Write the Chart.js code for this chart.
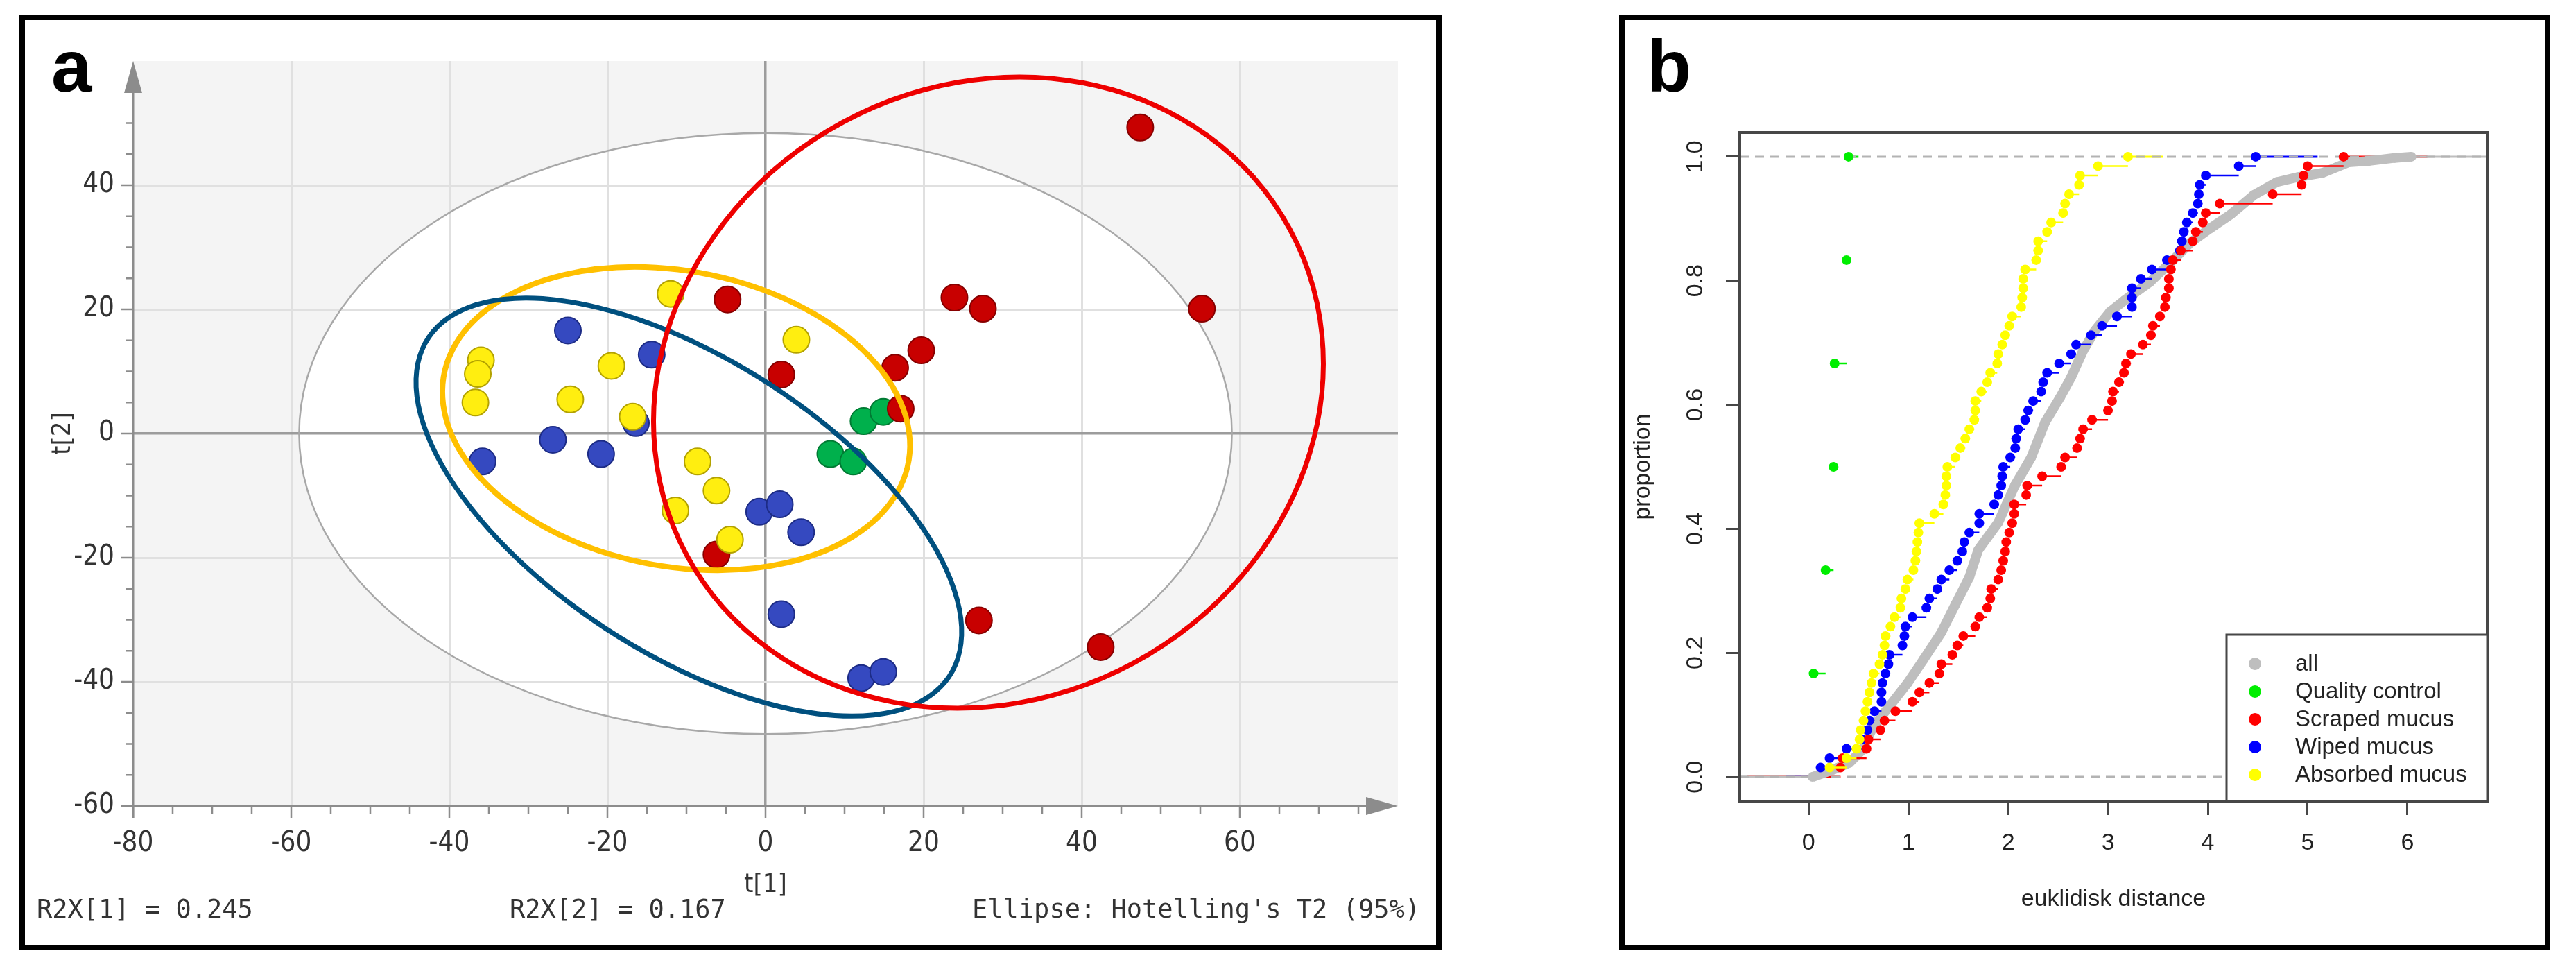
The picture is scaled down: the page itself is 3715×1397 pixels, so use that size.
<!DOCTYPE html>
<html><head><meta charset="utf-8">
<script src="https://cdn.jsdelivr.net/npm/chart.js@4.4.1/dist/chart.umd.min.js"></script>
<style>
html,body{margin:0;padding:0;background:#fff;}
body{width:3715px;height:1397px;position:relative;overflow:hidden;}
canvas{position:absolute;top:0;}
.frame{position:absolute;border:8px solid #000;box-sizing:border-box;}
#frameA{left:28px;top:21px;width:2051px;height:1349px;}
#frameB{left:2335px;top:21px;width:1343px;height:1349px;}
.panel{position:absolute;font-family:'Liberation Sans',Arial,sans-serif;font-weight:bold;font-size:105px;line-height:105px;color:#000;}
.mono{position:absolute;font-family:'DejaVu Sans Mono','Liberation Mono',monospace;font-size:37px;line-height:37px;color:#333;white-space:pre;}
</style></head>
<body>
<canvas id="chartA" width="2080" height="1397" style="left:0;width:2080px;height:1397px"></canvas>
<canvas id="chartB" width="1375" height="1397" style="left:2340px;width:1375px;height:1397px"></canvas>
<div class="frame" id="frameA"></div>
<div class="frame" id="frameB"></div>
<div class="panel" style="left:74px;top:43px">a</div>
<div class="panel" style="left:2375px;top:43px">b</div>
<div class="mono" style="left:53px;top:1292px">R2X[1] = 0.245</div>
<div class="mono" style="left:735px;top:1292px">R2X[2] = 0.167</div>
<div class="mono" style="left:1402px;top:1292px">Ellipse: Hotelling's T2 (95%)</div>
<script>
// ---------- Panel a : score plot (t[1] vs t[2]) ----------
const absorbedT1 = [-12.0, 3.9, -36.0, -36.4, -36.7, -19.5, -24.7, -16.8, -8.6, -6.2, -11.4, -4.5];
const absorbedT2 = [22.5, 15.1, 11.8, 9.6, 5.0, 10.9, 5.5, 2.7, -4.5, -9.2, -12.4, -17.1];
const wipedT1 = [-25.0, -14.4, -16.4, -26.9, -20.8, -35.8, -0.8, 1.8, 4.5, 2.0, 12.1, 14.9];
const wipedT2 = [16.6, 12.7, 1.7, -1.0, -3.3, -4.5, -12.6, -11.4, -15.9, -29.1, -39.4, -38.4];
const scrapedT1 = [47.4, 55.2, 23.9, 27.5, 19.7, 16.4, 17.1, -4.8, 2.0, -6.2, 27.0, 42.4];
const scrapedT2 = [49.3, 20.1, 21.9, 20.1, 13.4, 10.6, 4.0, 21.6, 9.5, -19.5, -30.1, -34.4];
const qcT1 = [8.2, 11.1, 12.4, 14.9];
const qcT2 = [-3.3, -4.5, 2.0, 3.5];

// ellipses: Hotelling T2, absorbed, wiped, scraped (data units)
const ellipseCenterT1 = [0, -11.3, -9.7, 28.2];
const ellipseCenterT2 = [0, 2.4, -11.85, 6.6];
const ellipseSemiA = [59, 30.4, 43.1, 51.3];
const ellipseSemiB = [48.4, 23.4, 21.6, 41.8];
const ellipseAngleDeg = [0, -21.2, -43.8, 76.6];

const t1Ticks = [-80, -60, -40, -20, 0, 20, 40, 60, 80];
const t1Labels = [-80, -60, -40, -20, 0, 20, 40, 60];
const t2Ticks = [-60, -40, -20, 0, 20, 40, 60];
const t2Labels = [-60, -40, -20, 0, 20, 40];

// ---------- Panel b : ECDF of euclidean distances ----------
const qcDist = [0.05, 0.17, 0.25, 0.26, 0.38, 0.40];
const scrapedDist = [0.32,0.34,0.58,0.60,0.72,0.76,0.87,1.04,1.11,1.21,1.31,1.33,1.44,1.49,1.55,1.67,1.71,1.79,1.82,1.83,1.90,1.93,1.95,1.97,1.98,2.01,2.04,2.06,2.06,2.18,2.19,2.34,2.53,2.57,2.69,2.72,2.75,2.84,3.00,3.04,3.05,3.11,3.16,3.18,3.23,3.35,3.43,3.45,3.52,3.57,3.58,3.61,3.61,3.63,3.65,3.73,3.85,3.88,3.95,3.98,4.12,4.65,4.94,4.96,5.00,5.36];
const wipedDist = [0.12,0.21,0.38,0.54,0.59,0.61,0.66,0.73,0.73,0.74,0.77,0.80,0.81,0.94,0.96,0.97,1.04,1.18,1.21,1.29,1.33,1.41,1.49,1.54,1.56,1.61,1.71,1.71,1.86,1.90,1.93,1.94,1.95,2.02,2.07,2.08,2.10,2.17,2.20,2.25,2.33,2.35,2.39,2.51,2.63,2.68,2.83,2.94,3.09,3.24,3.24,3.24,3.33,3.44,3.59,3.72,3.74,3.76,3.79,3.85,3.90,3.91,3.92,3.98,4.31,4.48];
const absorbedDist = [0.21,0.38,0.48,0.51,0.52,0.55,0.57,0.59,0.61,0.63,0.65,0.71,0.74,0.76,0.77,0.82,0.86,0.92,0.93,0.97,0.99,1.05,1.07,1.08,1.09,1.10,1.11,1.26,1.35,1.37,1.38,1.38,1.39,1.47,1.52,1.57,1.61,1.66,1.67,1.67,1.73,1.79,1.82,1.89,1.90,1.94,1.97,2.01,2.04,2.13,2.14,2.15,2.15,2.17,2.28,2.30,2.30,2.39,2.43,2.55,2.57,2.61,2.71,2.72,2.90,3.20];
const allDist = [0.04,0.25,0.41,0.54,0.64,0.78,0.99,1.15,1.33,1.47,1.61,1.70,1.90,2.07,2.23,2.37,2.52,2.63,2.75,2.87,3.02,3.17,3.42,3.65,3.83,4.02,4.23,4.46,4.69,4.90,5.15,5.41,5.61,5.87,6.04];
const allProp = [0.0,0.012,0.023,0.044,0.079,0.108,0.151,0.189,0.233,0.278,0.322,0.366,0.410,0.471,0.515,0.572,0.612,0.644,0.687,0.720,0.750,0.769,0.798,0.833,0.862,0.884,0.907,0.938,0.959,0.967,0.974,0.991,0.993,0.998,1.0];
// ends of the horizontal 0 / 1 lines of each ecdf
const extLeft = {all: -0.69, qc: 0.02, scraped: -0.62, wiped: -0.23, absorbed: -0.03};
const extRight = {all: 6.80, qc: 0.50, scraped: 6.20, wiped: 5.10, absorbed: 3.55};
const xTicksB = [0, 1, 2, 3, 4, 5, 6];
const yTicksB = [0, 0.2, 0.4, 0.6, 0.8, 1.0];
const legendLabels = ['all', 'Quality control', 'Scraped mucus', 'Wiped mucus', 'Absorbed mucus'];

// ---------- styles ----------
const narrowFont = "'Liberation Sans Narrow','DejaVu Sans Condensed','Open Sans',sans-serif";
const sansFont = "'Liberation Sans',Arial,sans-serif";
const ellipseColors = ['#a8a8a8', '#ffc000', '#00507f', '#ee0000'];
const ellipseWidths = [2.5, 8, 7, 7];
const colB = {all: '#bebebe', qc: '#00ee00', scraped: '#ff0000', wiped: '#0000ff', absorbed: '#ffff00'};
const legendColors = [colB.all, colB.qc, colB.scraped, colB.wiped, colB.absorbed];

const pts = (xs, ys) => xs.map((x, i) => ({x, y: ys[i]}));

function ellipsePath(ctx, xs, ys, i) {
  const cx = xs.getPixelForValue(ellipseCenterT1[i]);
  const cy = ys.getPixelForValue(ellipseCenterT2[i]);
  const sx = xs.getPixelForValue(1) - xs.getPixelForValue(0);
  const sy = ys.getPixelForValue(0) - ys.getPixelForValue(1);
  ctx.save();
  ctx.translate(cx, cy);
  ctx.scale(sx, -sy);
  ctx.rotate(ellipseAngleDeg[i] * Math.PI / 180);
  ctx.beginPath();
  ctx.ellipse(0, 0, ellipseSemiA[i], ellipseSemiB[i], 0, 0, Math.PI * 2);
  ctx.restore();
}

const plotAPlugin = {
  id: 'plotA',
  beforeDraw(chart) {
    const {ctx, chartArea: a, scales: {x, y}} = chart;
    ctx.save();
    ctx.fillStyle = '#f4f4f4';
    ctx.fillRect(a.left, a.top, a.right - a.left, a.bottom - a.top);
    ellipsePath(ctx, x, y, 0);
    ctx.fillStyle = '#ffffff';
    ctx.fill();
    ctx.restore();
  },
  beforeDatasetsDraw(chart) {
    const {ctx, scales: {x, y}} = chart;
    ctx.save();
    ellipsePath(ctx, x, y, 0);
    ctx.strokeStyle = ellipseColors[0];
    ctx.lineWidth = ellipseWidths[0];
    ctx.stroke();
    ctx.restore();
  },
  afterDatasetsDraw(chart) {
    const {ctx, scales: {x, y}} = chart;
    ctx.save();
    [1, 2, 3].forEach(i => {
      ellipsePath(ctx, x, y, i);
      ctx.strokeStyle = ellipseColors[i];
      ctx.lineWidth = ellipseWidths[i];
      ctx.stroke();
    });
    ctx.restore();
  },
  afterDraw(chart) {
    const {ctx, scales: {x, y}} = chart;
    const x0 = x.getPixelForValue(x.min), y0 = y.getPixelForValue(y.min);
    const xEnd = x.getPixelForValue(x.max), yEnd = y.getPixelForValue(y.max);
    ctx.save();
    ctx.strokeStyle = '#8c8c8c';
    ctx.fillStyle = '#8c8c8c';
    ctx.lineWidth = 3;
    ctx.beginPath();
    ctx.moveTo(x0, y0 + 18); ctx.lineTo(x0, yEnd + 44);
    ctx.moveTo(x0 - 18, y0); ctx.lineTo(xEnd - 44, y0);
    ctx.stroke();
    ctx.beginPath();
    ctx.moveTo(x0, yEnd); ctx.lineTo(x0 - 13, yEnd + 46); ctx.lineTo(x0 + 13, yEnd + 46); ctx.closePath();
    ctx.fill();
    ctx.beginPath();
    ctx.moveTo(xEnd, y0); ctx.lineTo(xEnd - 46, y0 - 13); ctx.lineTo(xEnd - 46, y0 + 13); ctx.closePath();
    ctx.fill();
    ctx.lineWidth = 2.5;
    ctx.beginPath();
    for (let v = x.min; v <= x.max - 5; v += 5) {
      const p = x.getPixelForValue(v);
      ctx.moveTo(p, y0); ctx.lineTo(p, y0 + (v % 20 === 0 ? 18 : 11));
    }
    for (let v = y.min; v <= y.max - 10; v += 5) {
      const p = y.getPixelForValue(v);
      ctx.moveTo(x0, p); ctx.lineTo(x0 - (v % 20 === 0 ? 18 : 11), p);
    }
    ctx.stroke();
    ctx.restore();
  }
};

const gridColA = (v, lo, hi) => (v === 0 ? '#9c9c9c' : (v === lo || v === hi) ? 'rgba(0,0,0,0)' : '#e0e0e0');

new Chart(document.getElementById('chartA'), {
  type: 'scatter',
  data: {
    datasets: [
      {label: 'Absorbed mucus', data: pts(absorbedT1, absorbedT2), backgroundColor: '#ffee10', borderColor: '#b3a200', order: 1},
      {label: 'Scraped mucus', data: pts(scrapedT1, scrapedT2), backgroundColor: '#c80000', borderColor: '#870000', order: 2},
      {label: 'Wiped mucus', data: pts(wipedT1, wipedT2), backgroundColor: '#3549c0', borderColor: '#1d2c86', order: 3},
      {label: 'Quality control', data: pts(qcT1, qcT2), backgroundColor: '#00b04c', borderColor: '#007a33', order: 4}
    ]
  },
  options: {
    responsive: false, animation: false, devicePixelRatio: 1,
    layout: {padding: {left: 0, top: 88, right: 64, bottom: 85}},
    plugins: {legend: {display: false}, tooltip: {enabled: false}},
    elements: {point: {radius: 19, borderWidth: 2, hoverRadius: 19}},
    scales: {
      x: {
        type: 'linear', min: -80, max: 80,
        afterBuildTicks: s => { s.ticks = t1Ticks.map(v => ({value: v})); },
        afterFit: s => { s.height = 150; },
        ticks: {autoSkip: false, maxRotation: 0, padding: 31, color: '#333', font: {family: narrowFont, size: 40},
          callback: v => (t1Labels.includes(v) ? String(v) : '')},
        grid: {drawTicks: false, color: c => gridColA(c.tick.value, -80, 80), lineWidth: c => (c.tick.value === 0 ? 3.5 : 3)},
        border: {display: false},
        title: {display: true, text: 't[1]', color: '#333', font: {family: narrowFont, size: 38}, padding: {top: 0, bottom: 13}}
      },
      y: {
        type: 'linear', min: -60, max: 60,
        afterBuildTicks: s => { s.ticks = t2Ticks.map(v => ({value: v})); },
        afterFit: s => { s.width = 192; },
        ticks: {autoSkip: false, padding: 27, color: '#333', font: {family: narrowFont, size: 40},
          callback: v => (t2Labels.includes(v) ? String(v) : '')},
        grid: {drawTicks: false, color: c => gridColA(c.tick.value, -60, 60), lineWidth: c => (c.tick.value === 0 ? 3.5 : 3)},
        border: {display: false},
        title: {display: true, text: 't[2]', color: '#333', font: {family: narrowFont, size: 38}, padding: {top: 68, bottom: 0}}
      }
    }
  },
  plugins: [plotAPlugin]
});

// ---------- chart b ----------
function ecdfPoints(xs) { return xs.map((x, i) => ({x, y: (i + 1) / xs.length})); }
function ecdfSteps(xs) {
  const out = [];
  const n = xs.length;
  for (let i = 0; i < n - 1; i++) {
    out.push({x: xs[i], y: (i + 1) / n}, {x: xs[i + 1], y: (i + 1) / n}, {x: xs[i + 1], y: null});
  }
  return out;
}
function ecdfExt(key, first, last) {
  return [{x: extLeft[key], y: 0}, {x: first, y: 0}, {x: first, y: null}, {x: last, y: 1}, {x: extRight[key], y: 1}];
}

const seriesB = [
  {key: 'qc', xs: qcDist, order: 40},
  {key: 'wiped', xs: wipedDist, order: 30},
  {key: 'scraped', xs: scrapedDist, order: 20},
  {key: 'absorbed', xs: absorbedDist, order: 10}
];
const dsB = [];
dsB.push({id: 'extall', data: ecdfExt('all', allDist[0], allDist[allDist.length - 1]), showLine: true, borderColor: colB.all, borderWidth: 3, pointRadius: 0, order: 100});
seriesB.forEach(s => {
  dsB.push({id: 'ext' + s.key, data: ecdfExt(s.key, s.xs[0], s.xs[s.xs.length - 1]), showLine: true, borderColor: colB[s.key], borderWidth: 3, pointRadius: 0, order: 100});
});
dsB.push({id: 'all', data: pts(allDist, allProp), showLine: true, borderColor: colB.all, borderWidth: 14, pointRadius: 7, pointBackgroundColor: colB.all, pointBorderWidth: 0, order: 50});
seriesB.forEach(s => {
  dsB.push({id: 'steps' + s.key, data: ecdfSteps(s.xs), showLine: true, borderColor: colB[s.key], borderWidth: 2.5, pointRadius: 0, order: s.order + 1});
  dsB.push({id: 'pts' + s.key, data: ecdfPoints(s.xs), showLine: false, pointRadius: 7, pointBackgroundColor: colB[s.key], pointBorderWidth: 0, order: s.order});
});

const plotBPlugin = {
  id: 'plotB',
  beforeDatasetDraw(chart, args) {
    if (chart.data.datasets[args.index].id !== 'all') return;
    const {ctx, chartArea: a, scales: {y}} = chart;
    ctx.save();
    ctx.strokeStyle = '#b3b3b3';
    ctx.lineWidth = 3;
    ctx.setLineDash([13, 9]);
    [0, 1].forEach(v => {
      const p = y.getPixelForValue(v);
      ctx.beginPath(); ctx.moveTo(a.left, p); ctx.lineTo(a.right, p); ctx.stroke();
    });
    ctx.restore();
  },
  afterDraw(chart) {
    const {ctx, chartArea: a, scales: {y}} = chart;
    ctx.save();
    ctx.strokeStyle = '#474747';
    ctx.lineWidth = 4;
    ctx.strokeRect(a.left, a.top, a.right - a.left, a.bottom - a.top);
    ctx.fillStyle = '#222';
    ctx.font = '34px ' + sansFont;
    ctx.textAlign = 'center';
    ctx.textBaseline = 'middle';
    yTicksB.forEach(v => {
      ctx.save();
      ctx.translate(a.left - 63, y.getPixelForValue(v));
      ctx.rotate(-Math.PI / 2);
      ctx.fillText(v.toFixed(1), 0, 0);
      ctx.restore();
    });
    const lw = 376, lh = 240;
    const lx = a.right - lw, ly = a.bottom - lh;
    ctx.fillStyle = '#fff';
    ctx.fillRect(lx, ly, lw, lh);
    ctx.lineWidth = 3;
    ctx.strokeRect(lx, ly, lw, lh);
    ctx.font = '33px ' + sansFont;
    ctx.textAlign = 'left';
    legendLabels.forEach((lab, i) => {
      const ry = ly + 42 + 40 * i;
      ctx.fillStyle = legendColors[i];
      ctx.beginPath(); ctx.arc(lx + 41, ry, 9, 0, Math.PI * 2); ctx.fill();
      ctx.fillStyle = '#222';
      ctx.fillText(lab, lx + 99, ry + 1);
    });
    ctx.restore();
  }
};

new Chart(document.getElementById('chartB'), {
  type: 'scatter',
  data: {datasets: dsB},
  options: {
    responsive: false, animation: false, devicePixelRatio: 1,
    layout: {padding: {left: 0, top: 191, right: 128, bottom: 62}},
    plugins: {legend: {display: false}, tooltip: {enabled: false}},
    elements: {line: {tension: 0}},
    scales: {
      x: {
        type: 'linear', min: -0.69, max: 6.80,
        afterBuildTicks: s => { s.ticks = xTicksB.map(v => ({value: v})); },
        afterFit: s => { s.height = 180; },
        ticks: {autoSkip: false, maxRotation: 0, padding: 20, color: '#222', font: {family: sansFont, size: 34}, callback: v => String(v)},
        grid: {drawOnChartArea: false, drawTicks: true, tickLength: 20, tickColor: '#474747', tickWidth: 3},
        border: {display: false},
        title: {display: true, text: 'euklidisk distance', color: '#222', font: {family: sansFont, size: 34}, padding: {top: 0, bottom: 18}}
      },
      y: {
        type: 'linear', min: -0.039, max: 1.039,
        afterBuildTicks: s => { s.ticks = yTicksB.map(v => ({value: v})); },
        afterFit: s => { s.width = 169; },
        ticks: {display: false},
        grid: {drawOnChartArea: false, drawTicks: true, tickLength: 20, tickColor: '#474747', tickWidth: 3},
        border: {display: false},
        title: {display: true, text: 'proportion', color: '#222', font: {family: sansFont, size: 34}, padding: {top: 9, bottom: 0}}
      }
    }
  },
  plugins: [plotBPlugin]
});
</script>
</body></html>
